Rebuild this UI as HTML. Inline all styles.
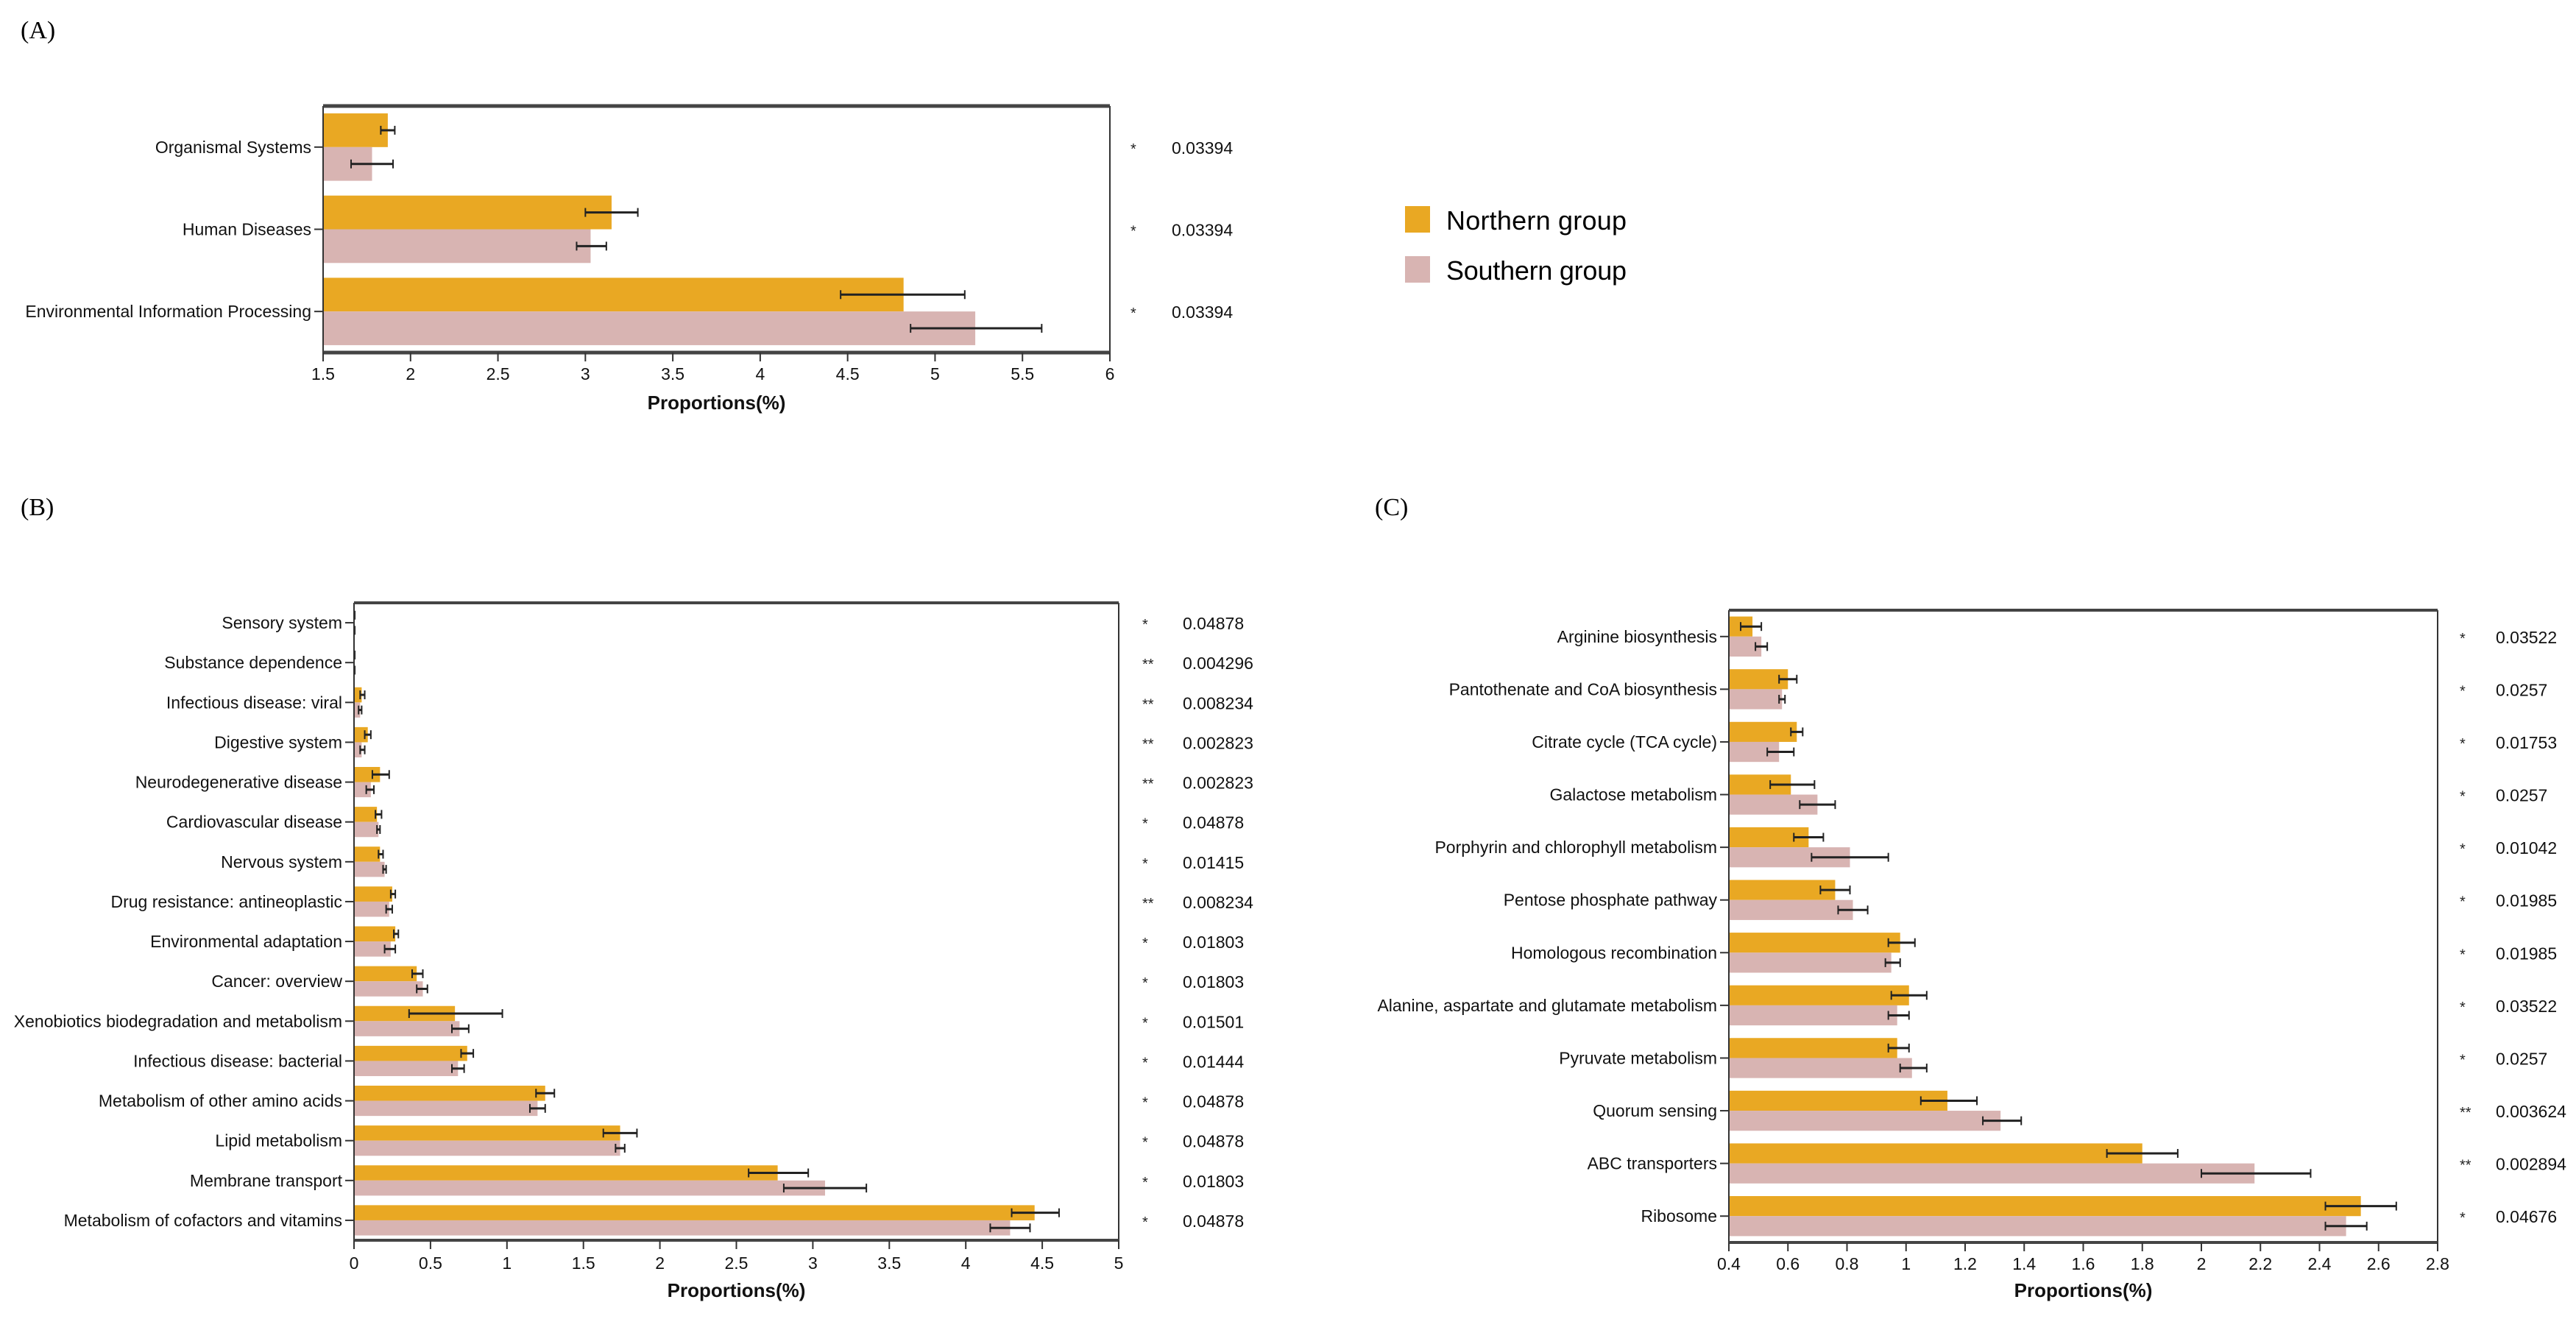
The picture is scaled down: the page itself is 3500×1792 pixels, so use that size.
<!DOCTYPE html>
<html><head><meta charset="utf-8"><style>
html,body{margin:0;padding:0;background:#fff;}
svg{display:block;font-family:"Liberation Sans",Arial,sans-serif;}
</style></head><body>
<svg id="fig" width="3500" height="1792" viewBox="0 0 3500 1792" xmlns="http://www.w3.org/2000/svg">
<rect x="0" y="0" width="3500" height="1792" fill="#fff"/>
<text x="28" y="52" font-family="Liberation Serif,serif" font-size="34">(A)</text>
<text x="28" y="700" font-family="Liberation Serif,serif" font-size="34">(B)</text>
<text x="1868" y="700" font-family="Liberation Serif,serif" font-size="34">(C)</text>
<g>
<g><rect x="1909" y="280" width="34" height="36" fill="#E9A823"/><text x="1965" y="312" font-size="36" textLength="245">Northern group</text></g>
<g><rect x="1909" y="348" width="34" height="36" fill="#D8B4B2"/><text x="1965" y="380" font-size="36" textLength="245">Southern group</text></g>
</g>
</svg>
<script>
// Panel A data
const catsA = ["Organismal Systems","Human Diseases","Environmental Information Processing"];
const northA = [1.87, 3.15, 4.82];
const northLoA = [1.83, 3.00, 4.46];
const northHiA = [1.91, 3.30, 5.17];
const southA = [1.78, 3.03, 5.23];
const southLoA = [1.66, 2.95, 4.86];
const southHiA = [1.90, 3.12, 5.61];
const starsA = ["*","*","*"];
const pA = ["0.03394","0.03394","0.03394"];
const ticksA = [1.5,2,2.5,3,3.5,4,4.5,5,5.5,6];
// Panel B data
const catsB = ["Sensory system","Substance dependence","Infectious disease: viral","Digestive system","Neurodegenerative disease","Cardiovascular disease","Nervous system","Drug resistance: antineoplastic","Environmental adaptation","Cancer: overview","Xenobiotics biodegradation and metabolism","Infectious disease: bacterial","Metabolism of other amino acids","Lipid metabolism","Membrane transport","Metabolism of cofactors and vitamins"];
const northB = [0.002,0.002,0.05,0.09,0.17,0.15,0.17,0.25,0.27,0.41,0.66,0.74,1.25,1.74,2.77,4.45];
const northLoB = [0.0,0.0,0.04,0.07,0.12,0.14,0.16,0.24,0.26,0.38,0.36,0.70,1.19,1.63,2.58,4.30];
const northHiB = [0.005,0.005,0.07,0.11,0.23,0.18,0.19,0.27,0.29,0.45,0.97,0.78,1.31,1.85,2.97,4.61];
const southB = [0.002,0.002,0.04,0.05,0.11,0.16,0.20,0.23,0.24,0.45,0.69,0.68,1.20,1.74,3.08,4.29];
const southLoB = [0.0,0.0,0.03,0.04,0.08,0.15,0.19,0.21,0.20,0.41,0.64,0.64,1.15,1.71,2.81,4.16];
const southHiB = [0.005,0.005,0.05,0.07,0.13,0.17,0.21,0.25,0.27,0.48,0.75,0.72,1.25,1.77,3.35,4.42];
const starsB = ["*","**","**","**","**","*","*","**","*","*","*","*","*","*","*","*"];
const pB = ["0.04878","0.004296","0.008234","0.002823","0.002823","0.04878","0.01415","0.008234","0.01803","0.01803","0.01501","0.01444","0.04878","0.04878","0.01803","0.04878"];
const ticksB = [0,0.5,1,1.5,2,2.5,3,3.5,4,4.5,5];
// Panel C data
const catsC = ["Arginine biosynthesis","Pantothenate and CoA biosynthesis","Citrate cycle (TCA cycle)","Galactose metabolism","Porphyrin and chlorophyll metabolism","Pentose phosphate pathway","Homologous recombination","Alanine, aspartate and glutamate metabolism","Pyruvate metabolism","Quorum sensing","ABC transporters","Ribosome"];
const northC = [0.48,0.60,0.63,0.61,0.67,0.76,0.98,1.01,0.97,1.14,1.80,2.54];
const northLoC = [0.44,0.57,0.61,0.54,0.62,0.71,0.94,0.95,0.94,1.05,1.68,2.42];
const northHiC = [0.51,0.63,0.65,0.69,0.72,0.81,1.03,1.07,1.01,1.24,1.92,2.66];
const southC = [0.51,0.58,0.57,0.70,0.81,0.82,0.95,0.97,1.02,1.32,2.18,2.49];
const southLoC = [0.49,0.57,0.53,0.64,0.68,0.77,0.93,0.94,0.98,1.26,2.00,2.42];
const southHiC = [0.53,0.59,0.62,0.76,0.94,0.87,0.98,1.01,1.07,1.39,2.37,2.56];
const starsC = ["*","*","*","*","*","*","*","*","*","**","**","*"];
const pC = ["0.03522","0.0257","0.01753","0.0257","0.01042","0.01985","0.01985","0.03522","0.0257","0.003624","0.002894","0.04676"];
const ticksC = [0.4,0.6,0.8,1,1.2,1.4,1.6,1.8,2,2.2,2.4,2.6,2.8];

const NS="http://www.w3.org/2000/svg";
const svg=document.getElementById('fig');
function mk(tag,attrs,parent){const e=document.createElementNS(NS,tag);for(const k in attrs)e.setAttribute(k,attrs[k]);(parent||svg).appendChild(e);return e;}

function panel(id,o,cats,nv,nlo,nhi,sv,slo,shi,stars,ps,ticks){
  const g=mk('g',{});
  
  
  const x=v=>o.x0+(v-o.min)/(o.max-o.min)*(o.x1-o.x0);
  const band=(o.y1-o.y0)/cats.length;
  const bh=band*o.frac/2;
  cats.forEach((c,i)=>{
    const cy=o.y0+band*(i+0.5);
    const bn=mk('rect',{x:o.x0,y:cy-bh,width:Math.max(0,x(nv[i])-o.x0),height:bh,fill:'#E9A823'},g);
    
    
    const bs=mk('rect',{x:o.x0,y:cy,width:Math.max(0,x(sv[i])-o.x0),height:bh,fill:'#D8B4B2'},g);
    
    
    [[nlo[i],nhi[i],cy-bh/2],[slo[i],shi[i],cy+bh/2]].forEach(e=>{
      if(e[1]-e[0]<0.0001)return;
      const eg=mk('g',{stroke:'#222','stroke-width':3},g);
      
      
      mk('line',{x1:x(e[0]),x2:x(e[1]),y1:e[2],y2:e[2]},eg);
      mk('line',{x1:x(e[0]),x2:x(e[0]),y1:e[2]-6,y2:e[2]+6,'stroke-width':2},eg);
      mk('line',{x1:x(e[1]),x2:x(e[1]),y1:e[2]-6,y2:e[2]+6,'stroke-width':2},eg);
    });
    mk('line',{x1:o.x0-12,x2:o.x0,y1:cy,y2:cy,stroke:'#333','stroke-width':2},g);
    const t=mk('text',{x:o.x0-16,y:cy+8,'text-anchor':'end','font-size':o.fs,fill:'#111'},g);
    t.textContent=c;
    
    
    const s=mk('text',{x:o.sx,y:cy+9,'font-size':20,fill:'#222'},g);
    s.textContent=stars[i];
    
    
    const p=mk('text',{x:o.px,y:cy+9,'font-size':o.fs,fill:'#111'},g);
    p.textContent=ps[i];
    
    
  });
  mk('line',{x1:o.x0,x2:o.x0,y1:o.y0,y2:o.y1,stroke:'#333','stroke-width':2},g);
  mk('line',{x1:o.x1,x2:o.x1,y1:o.y0,y2:o.y1,stroke:'#333','stroke-width':2},g);
  mk('line',{x1:o.x0,x2:o.x1,y1:o.y0,y2:o.y0,stroke:'#444','stroke-width':o.bw},g);
  mk('line',{x1:o.x0,x2:o.x1,y1:o.y1,y2:o.y1,stroke:'#444','stroke-width':o.bw},g);
  ticks.forEach(v=>{
    mk('line',{x1:x(v),x2:x(v),y1:o.y1,y2:o.y1+12,stroke:'#333','stroke-width':2},g);
    const t=mk('text',{x:x(v),y:o.ty,'text-anchor':'middle','font-size':o.fs,fill:'#111'},g);
    t.textContent=String(v);
    
    
  });
  const tt=mk('text',{x:(o.x0+o.x1)/2,y:o.tt,'text-anchor':'middle','font-size':26,'font-weight':'bold',fill:'#111'},g);
  tt.textContent='Proportions(%)';
  
  
}
panel('panel-a-chart',{x0:439,x1:1508,y0:144,y1:479,min:1.5,max:6,frac:0.82,fs:23,bw:5,sx:1536,px:1592,ty:516,tt:556},catsA,northA,northLoA,northHiA,southA,southLoA,southHiA,starsA,pA,ticksA);
panel('panel-b-chart',{x0:481,x1:1520,y0:819,y1:1685,min:0,max:5,frac:0.76,fs:23,bw:4,sx:1552,px:1607,ty:1724,tt:1762},catsB,northB,northLoB,northHiB,southB,southLoB,southHiB,starsB,pB,ticksB);
panel('panel-c-chart',{x0:2349,x1:3312,y0:829,y1:1688,min:0.4,max:2.8,frac:0.76,fs:23,bw:4,sx:3342,px:3391,ty:1725,tt:1762},catsC,northC,northLoC,northHiC,southC,southLoC,southHiC,starsC,pC,ticksC);
</script>
</body></html>
